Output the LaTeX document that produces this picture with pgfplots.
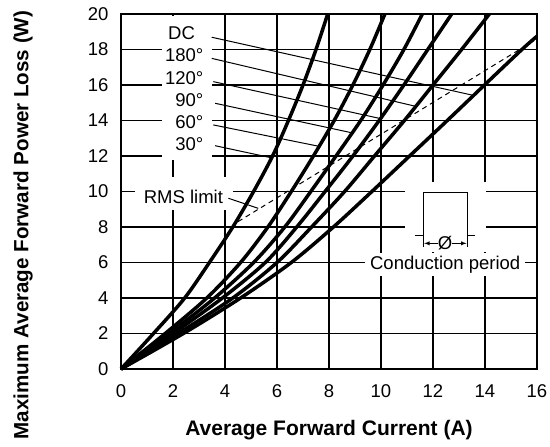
\documentclass[border=0pt]{standalone}
\usepackage{fontspec}
\setmainfont{Liberation Sans}
\usepackage{pgfplots}
\pgfplotsset{compat=1.18}
\newcommand\ts{\fontsize{18.5}{21}\selectfont}
\begin{document}
\begin{tikzpicture}
\begin{axis}[
  scale only axis, width=416pt, height=355pt,
  xmin=0, xmax=16, ymin=0, ymax=20,
  xtick={0,2,...,16}, ytick={0,2,...,20},
  grid=major, major grid style={black, line width=1.1pt},
  axis line style={line width=2.6pt},
  major tick length=0pt,
  tick label style={font=\ts, /pgf/number format/assume math mode=true},
  xticklabel style={yshift=-12pt},
  yticklabel style={xshift=-9pt},
  clip=false,
]
% white boxes over the grid
\fill[white] (1.56,11.8) rectangle (3.49,19.9);
\fill[white] (0.54,8.96) rectangle (4.3,10.83);
\fill[white] (10.92,6.6) rectangle (14.03,10.55);
\node[fill=white, inner xsep=5pt, inner ysep=3pt, anchor=base, font=\ts] at (12.47,5.61) {Conduction period};

% curve labels
\node[anchor=base, font=\ts] at (2.33,18.57) {DC};
\node[anchor=base east, font=\ts] at (3.3,17.31) {180°};
\node[anchor=base east, font=\ts] at (3.3,16.05) {120°};
\node[anchor=base east, font=\ts] at (3.3,14.79) {90°};
\node[anchor=base east, font=\ts] at (3.3,13.54) {60°};
\node[anchor=base east, font=\ts] at (3.3,12.29) {30°};
\node[anchor=base, font=\ts] at (2.4,9.33) {RMS limit};

% leader lines
\draw[line width=1pt] (3.49,18.69) -- (13.6,15.4);
\draw[line width=1pt] (3.49,17.5) -- (11.33,14.8);
\draw[line width=1pt] (3.55,16.19) -- (10.0,14.1);
\draw[line width=1pt] (3.62,14.97) -- (8.9,13.3);
\draw[line width=1pt] (3.55,13.75) -- (7.6,12.55);
\draw[line width=1pt] (3.62,12.58) -- (5.78,11.9);
\draw[line width=1pt] (4.13,9.62) -- (5.28,9.05);

% conduction period symbol
\draw[line width=1pt] (11.31,7.52) -- (11.64,7.52) -- (11.64,9.97) -- (13.31,9.97) -- (13.31,7.52) -- (13.63,7.52);
\draw[line width=1pt] (11.64,7.52) -- (11.64,6.9);
\draw[line width=1pt] (13.31,7.52) -- (13.31,6.9);
\draw[line width=0.9pt, -latex] (12.2,7.08) -- (11.66,7.08);
\draw[line width=0.9pt, -latex] (12.72,7.08) -- (13.29,7.08);
\node[font=\ts, inner sep=0pt] at (12.46,7.08) {Ø};

% RMS limit
\addplot[line width=1pt, dash pattern=on 5pt off 4pt] coordinates {(4.5,8.3) (16,18.6)};

% 30 deg
\addplot[line width=3.5pt, smooth] coordinates {
  (0,0) (1.25,2) (2.45,4) (3.4,6) (4.3,8) (5.1,10) (5.83,12) (6.44,14) (7.0,16) (7.5,18) (7.95,20)};
% 60 deg
\addplot[line width=3.5pt, smooth] coordinates {
  (0,0) (1.7,2) (3.3,4) (4.6,6) (5.65,8) (6.55,10) (7.4,12) (8.2,14) (8.92,16) (9.57,18) (10.15,20)};
% 90 deg
\addplot[line width=3.5pt, smooth] coordinates {
  (0,0) (1.85,2) (3.6,4) (5.1,6) (6.3,8) (7.3,10) (8.27,12) (9.22,14) (10.08,16) (10.88,18) (11.59,20)};
% 120 deg
\addplot[line width=3.5pt, smooth] coordinates {
  (0,0) (2.0,2) (3.9,4) (5.55,6) (6.76,8) (7.85,10) (8.92,12) (9.93,14) (10.88,16) (11.8,18) (12.72,20)};
% 180 deg
\addplot[line width=3.5pt, smooth] coordinates {
  (0,0) (2.2,2) (4.3,4) (6.0,6) (7.33,8) (8.6,10) (9.75,12) (10.9,14) (12.0,16) (13.1,18) (14.17,20)};
% DC
\addplot[line width=3.5pt, smooth] coordinates {
  (0,0) (2.4,2) (4.6,4) (6.55,6) (8.17,8) (9.65,10) (11.1,12) (12.55,14) (13.98,16) (15.42,18) (16,18.75)};
\end{axis}
\node[font=\bfseries\fontsize{21}{24}\selectfont] at (208pt,-61pt) {Average Forward Current (A)};
\node[rotate=90, font=\bfseries\fontsize{20.6}{24}\selectfont] at (-98pt,144pt) {Maximum Average Forward Power Loss (W)};
\pgfresetboundingbox
\path (-121pt,-78pt) rectangle (429pt,369pt);
\end{tikzpicture}
\end{document}
